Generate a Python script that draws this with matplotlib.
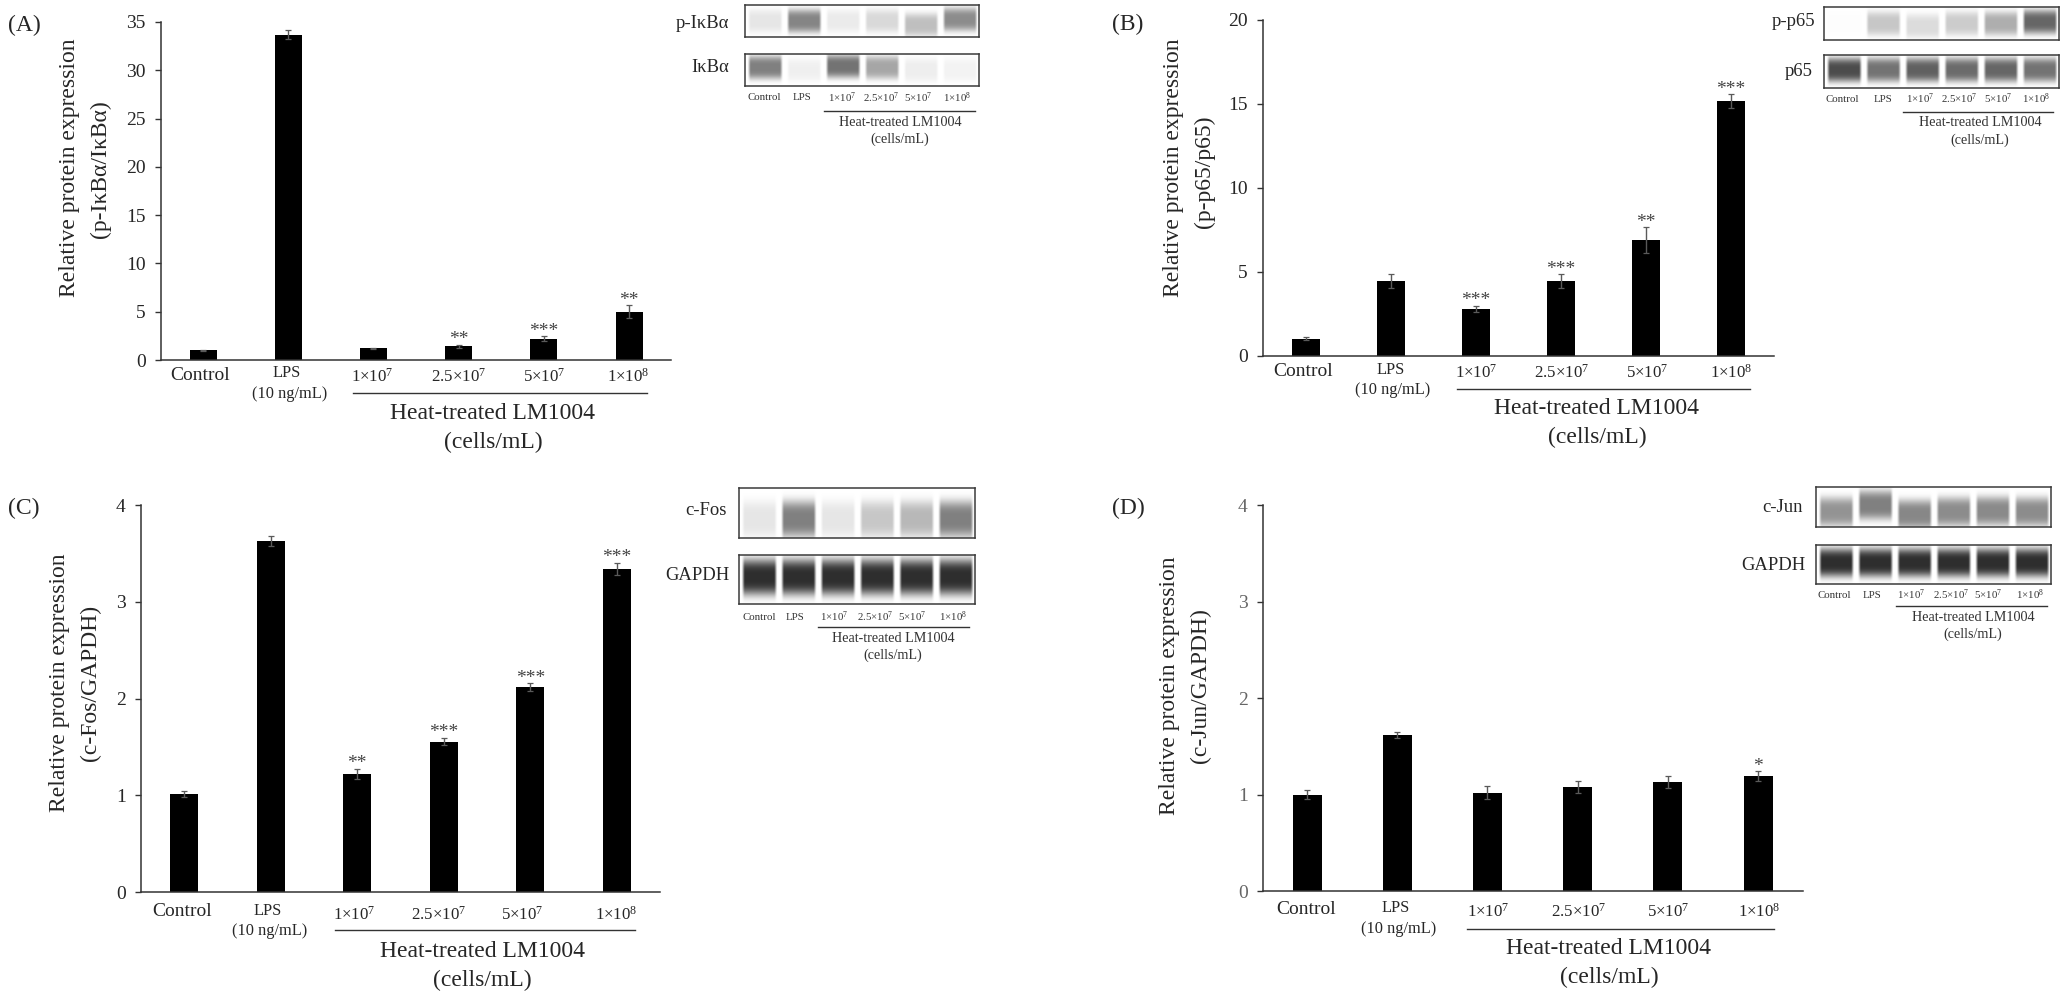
import numpy as np
import matplotlib
matplotlib.use("Agg")
import matplotlib.pyplot as plt
from matplotlib.lines import Line2D

# ---------- data ----------
categories = ["Control", "LPS", "1×10$^{7}$", "2.5×10$^{7}$", "5×10$^{7}$", "1×10$^{8}$"]
values_a = [1.0, 33.7, 1.2, 1.4, 2.2, 5.0]
errors_a = [0.08, 0.5, 0.08, 0.15, 0.25, 0.65]
stars_a = ["", "", "", "**", "***", "**"]
ticks_a = [0, 5, 10, 15, 20, 25, 30, 35]

values_b = [1.01, 4.43, 2.78, 4.43, 6.89, 15.15]
errors_b = [0.08, 0.42, 0.18, 0.42, 0.76, 0.42]
stars_b = ["", "", "***", "***", "**", "***"]
ticks_b = [0, 5, 10, 15, 20]

values_c = [1.01, 3.63, 1.22, 1.555, 2.117, 3.34]
errors_c = [0.03, 0.05, 0.05, 0.04, 0.04, 0.06]
stars_c = ["", "", "**", "***", "***", "***"]
ticks_c = [0, 1, 2, 3, 4]

values_d = [1.0, 1.615, 1.02, 1.077, 1.128, 1.19]
errors_d = [0.05, 0.03, 0.07, 0.06, 0.06, 0.05]
stars_d = ["", "", "", "", "", "*"]
ticks_d = [0, 1, 2, 3, 4]

# blot band darkness per lane
blot_pikb = [.10, .48, .08, .15, .25, .45]
blot_ikb = [.50, .06, .55, .35, .07, .05]
blot_pp65 = [.01, .22, .14, .20, .32, .60]
blot_p65 = [.70, .55, .62, .58, .60, .55]
blot_cfos = [.10, .50, .10, .22, .28, .50]
blot_gapdh = [.82, .82, .82, .82, .82, .82]
blot_cjun = [.42, .50, .47, .45, .46, .45]

W, H = 2060, 996
plt.rcParams["font.family"] = ["Liberation Serif", "DejaVu Serif"]
plt.rcParams["mathtext.fontset"] = "custom"
plt.rcParams["mathtext.rm"] = "Liberation Serif"
plt.rcParams["mathtext.default"] = "rm"
TXT = "#262626"
YLAB = 17.0
HEAT = 17.0
fig = plt.figure(figsize=(W / 100, H / 100), dpi=100, facecolor="white")


def T(x, y, s, size, color=TXT, ha="center", rot=0):
    fig.text(x / W, 1 - y / H, s, fontsize=size, color=color, ha=ha, va="center", rotation=rot,
             rotation_mode="anchor" if rot else "default")


def panel(vals, errs, stars, ticks, ymax, x_axis, x_end, y_top, y0, c0, step, bw, ticktxt=TXT):
    ax = fig.add_axes([x_axis / W, 1 - y0 / H, (x_end - x_axis) / W, (y0 - y_top) / H])
    ax.patch.set_alpha(0)
    xs = np.arange(len(vals))
    ax.set_xlim((x_axis - c0) / step, (x_end - c0) / step)
    ax.set_ylim(0, ymax)
    ax.bar(xs, vals, width=bw / step, color="black", linewidth=0)
    ax.errorbar(xs, vals, yerr=errs, fmt="none", ecolor="#5a5a5a", elinewidth=1.0, capsize=2.4, capthick=0.9)
    for sp in ("top", "right"):
        ax.spines[sp].set_visible(False)
    for sp in ("left", "bottom"):
        ax.spines[sp].set_color("#333333")
        ax.spines[sp].set_linewidth(1.1)
    ax.set_xticks([])
    ax.set_yticks(ticks)
    ax.tick_params(axis="y", length=4, width=1.0, color="#333333", pad=7, labelsize=14, labelcolor=ticktxt)
    for x, v, e, s in zip(xs, vals, errs, stars):
        if s:
            ax.annotate(s, (x, v + e), xytext=(0, 0.5), textcoords="offset points", ha="center", va="baseline",
                        fontsize=14, color="#444444")
    return ax


def sublabels(control, lps, ng, pos, ylab, line, heat, cells):
    for (x, y), s in zip([control, lps] + [(p, ylab) for p in pos],
                         [categories[0], categories[1]] + categories[2:]):
        fs = 14 if s == "Control" else (11.8 if s == "LPS" else 12.2)
        T(x, y, s, fs)
    T(ng[0], ng[1], "(10 ng/mL)", 11.8)
    fig.add_artist(Line2D([line[0] / W, line[1] / W], [1 - line[2] / H] * 2, color="#333333", lw=1.0))
    T(heat[0], heat[1], "Heat-treated LM1004", HEAT)
    T(cells[0], cells[1], "(cells/mL)", HEAT)


def blot(levels, box, centers=None, half=.36):
    x0, x1, y0, y1 = box
    ax = fig.add_axes([x0 / W, 1 - y1 / H, (x1 - x0) / W, (y1 - y0) / H])
    nx, ny = int(x1 - x0) * 2, int(y1 - y0) * 2
    img = np.ones((ny, nx))
    u = (np.arange(nx) + .5) / nx
    v = (np.arange(ny) + .5) / ny
    centers = centers or [.5] * 6
    for i, (d, c) in enumerate(zip(levels, centers)):
        left = .012 + i * .1665
        mx = np.clip((u - left) / .012, 0, 1) * np.clip((left + .15 - u) / .012, 0, 1)
        prof = np.exp(-np.abs((v - c) / half) ** 3.5)
        img -= np.outer(d * prof, mx)
    ax.imshow(img, cmap="gray", vmin=0, vmax=1, aspect="auto", interpolation="bilinear", extent=(0, 1, 1, 0))
    ax.set_xticks([])
    ax.set_yticks([])
    for sp in ax.spines.values():
        sp.set_color("#3a3a3a")
        sp.set_linewidth(1.1)


def blot_text(lab1, y1, lab2, y2, xr1, xr2, y_lane, lane_x, line, heat, cells):
    T(xr1, y1, lab1, 13.4, ha="right")
    T(xr2, y2, lab2, 13.4, ha="right")
    for x, s in zip(lane_x, categories):
        T(x, y_lane, s, 7.8, color="#333333")
    fig.add_artist(Line2D([line[0] / W, line[1] / W], [1 - line[2] / H] * 2, color="#333333", lw=1.0))
    T(heat[0], heat[1], "Heat-treated LM1004", 10.2, color="#333333")
    T(cells[0], cells[1], "(cells/mL)", 10.2, color="#333333")


# ---------- panel A ----------
T(24, 25, "(A)", 17)
panel(values_a, errors_a, stars_a, ticks_a, 35, 161, 671, 22, 360, 203, 85.2, 27)
T(69, 168, "Relative protein expression", YLAB, rot=90)
T(100, 169, "(p-IκBα/IκBα)", YLAB, rot=90)
sublabels((200, 375), (287, 373), (290, 394), [372, 459, 544, 628], 377, (353, 647, 393), (493, 413), (493, 442))
blot(blot_pikb, (745, 979, 5, 37), [.5, .5, .5, .5, .62, .45])
blot(blot_ikb, (745, 979, 54, 86), [.42, .5, .38, .42, .5, .5])
blot_text("p-IκBα", 23, "IκBα", 68, 729, 729, 98, [764, 802, 842, 881, 918, 957], (824, 975, 111), (900, 122), (900, 139))

# ---------- panel B ----------
T(1128, 24, "(B)", 17)
panel(values_b, errors_b, stars_b, ticks_b, 20, 1263, 1774, 20, 355.7, 1306, 85, 28)
T(1174, 168, "Relative protein expression", YLAB, rot=90)
T(1204, 172, "(p-p65/p65)", YLAB, rot=90)
sublabels((1303, 371), (1391, 370), (1393, 390), [1476, 1562, 1647, 1731], 373, (1457, 1750, 389), (1597, 409), (1597, 437))
blot(blot_pp65, (1824, 2059, 7, 40), [.5, .5, .58, .5, .5, .45])
blot(blot_p65, (1824, 2059, 55, 88), [.45] * 6)
blot_text("p-p65", 21, "p65", 71, 1815, 1813, 99, [1842, 1883, 1920, 1959, 1998, 2036], (1903, 2053, 112), (1980, 122), (1980, 140))

# ---------- panel C ----------
T(24, 508, "(C)", 17)
panel(values_c, errors_c, stars_c, ticks_c, 4, 141, 660, 505, 892, 184, 86.6, 28)
T(60, 683, "Relative protein expression", YLAB, rot=90)
T(90, 683, "(c-Fos/GAPDH)", YLAB, rot=90)
sublabels((182, 912), (268, 911), (270, 931), [354, 439, 522, 616], 915, (335, 635, 930), (482, 951), (482, 980))
blot(blot_cfos, (739, 975, 488, 538), [.62] * 6)
blot(blot_gapdh, (739, 975, 555, 604), [.45] * 6)
blot_text("c-Fos", 510, "GAPDH", 576, 727, 730, 617, [759, 795, 834, 875, 912, 953], (818, 969, 627), (893, 638), (893, 655))

# ---------- panel D ----------
T(1128, 508, "(D)", 17)
panel(values_d, errors_d, stars_d, ticks_d, 4, 1263, 1803, 505, 891, 1307, 90.2, 29, ticktxt="#666666")
T(1170, 686, "Relative protein expression", YLAB, rot=90)
T(1200, 686, "(c-Jun/GAPDH)", YLAB, rot=90)
sublabels((1306, 909), (1396, 908), (1399, 929), [1488, 1579, 1668, 1759], 912, (1467, 1774, 929), (1609, 948), (1609, 977))
blot(blot_cjun, (1816, 2051, 487, 527), [.62, .45, .68, .62, .6, .62])
blot(blot_gapdh, (1816, 2051, 545, 584), [.45] * 6)
blot_text("c-Jun", 507, "GAPDH", 565, 1803, 1805, 595, [1834, 1872, 1911, 1951, 1988, 2030], (1896, 2047, 606), (1973, 617), (1973, 634))

fig.savefig("out.png", dpi=100, facecolor="white")
